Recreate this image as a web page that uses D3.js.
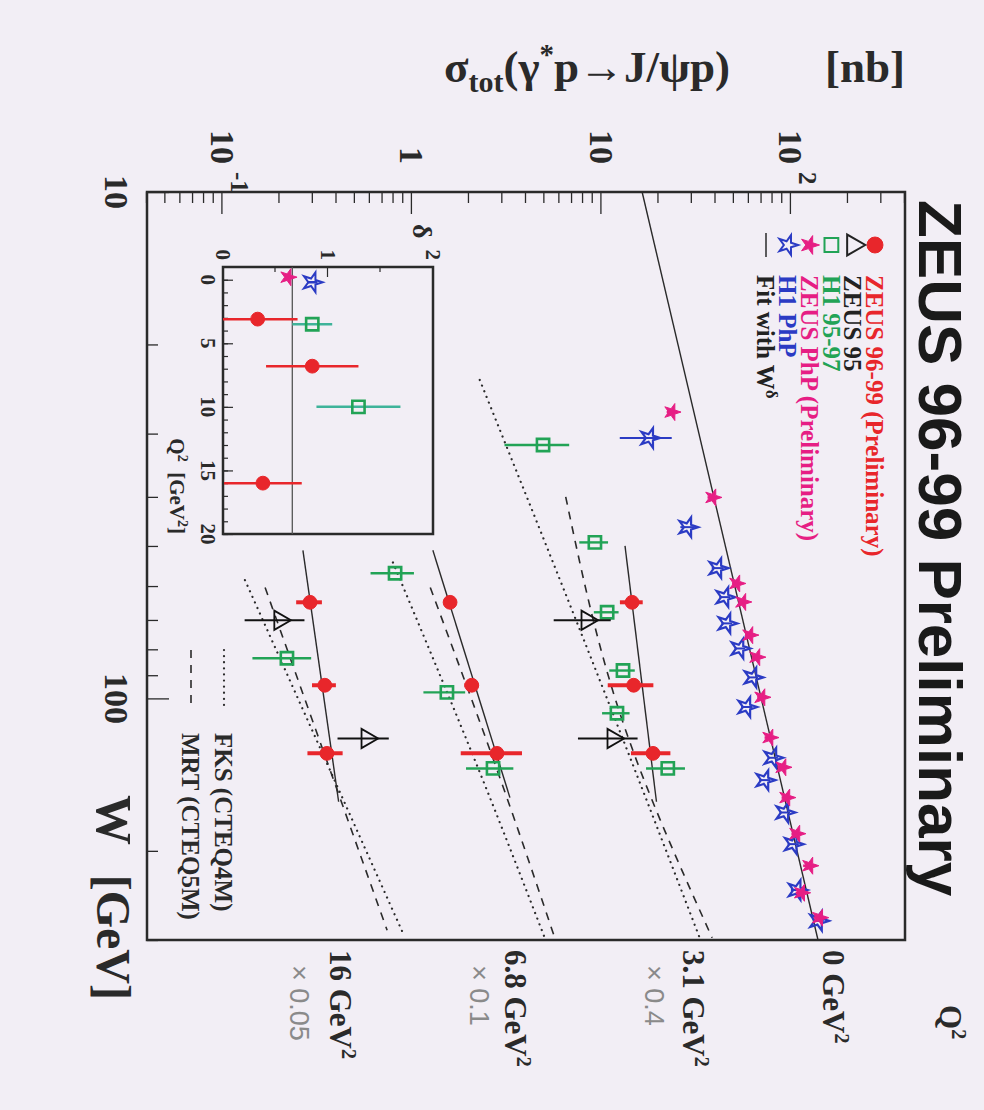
<!DOCTYPE html>
<html lang="en">
<head>
<meta charset="UTF-8">
<title>J/psi cross section vs W</title>
<style>
  body { margin: 0; background: #f2eef5; }
  text { font-family: "Liberation Serif", "Times New Roman", serif; font-weight: bold; }
</style>
</head>
<body>
<script src="https://cdn.jsdelivr.net/npm/d3@7/dist/d3.min.js"></script>
<div id="chart"></div>
<script>
// Q2 bins, the scale factor each bin is drawn with, and the labels
var q2Names = ["0 GeV", "3.1 GeV", "6.8 GeV", "16 GeV"]
var q2Factors = [1, 0.4, 0.1, 0.05]
var factorLabels = ["", "\u00d7 0.4", "\u00d7 0.1", "\u00d7 0.05"]

// ZEUS 96-99 (preliminary) - q is the Q2 bin index, sigma in nb (unscaled)
var zeusQ = [1, 1, 1, 2, 2, 2, 3, 3, 3]
var zeusW = [64.6, 94.2, 128.4, 64.6, 94.2, 128.4, 64.6, 94.2, 128.4]
var zeusSig = [36.3, 37, 46.8, 15.9, 20.7, 28.1, 5.8, 6.94, 7.12]
var zeusErr = [5, 10, 11, 1.2, 1.8, 10, 0.9, 1.0, 1.5]

// ZEUS 95
var z95Q = [1, 1, 3, 3]
var z95W = [70.1, 120, 70.1, 120]
var z95Sig = [21, 28.8, 4.02, 11.6]
var z95Err = [7, 10, 1.4, 3.5]

// H1 95-97
var h1Q = [1, 1, 1, 1, 1, 1, 2, 2, 2, 3]
var h1W = [31.6, 49.2, 67.6, 88.1, 107, 137.5, 56.6, 97.3, 137.5, 83.3]
var h1Sig = [12.3, 23.1, 26.8, 32.5, 30.2, 56, 8.15, 15.3, 26.8, 4.38]
var h1Err = [4.6, 4, 4, 5, 5, 13, 2.1, 3.8, 7.5, 1.5]

// photoproduction, Q2 = 0
var zphpW = [27.2, 40.1, 59.3, 64.5, 75.0, 82.9, 99.5, 119.5, 136.8, 157, 185, 214, 242, 271]
var zphpSig = [23.6, 38.8, 51.9, 55.8, 60.8, 66.2, 70.4, 77.6, 90.9, 95.3, 107.6, 126, 114, 142]
var zphpErr = [1.5, 2.5, 3, 3, 3.5, 4, 4, 5, 6, 6, 7, 10, 8, 10]
var h1phpW = [30.6, 45.9, 55.3, 63.1, 71.1, 79.7, 90.9, 104, 131, 145, 168, 194, 239, 275]
var h1phpSig = [18.0, 28.6, 41.2, 44.9, 46.0, 53.9, 63.1, 58.6, 80.4, 73, 93, 103, 108, 140]
var h1phpErr = [5.5, 2.5, 3, 3, 3, 3.5, 4, 4, 5, 5, 6, 7, 8, 9]

// fits with W^delta, end points per Q2 bin (unscaled)
var fitW0 = [10, 50, 51, 51]
var fitS0 = [16.4, 33.3, 12.9, 5.32]
var fitW1 = [300, 160, 157, 160]
var fitS1 = [139, 48.8, 32.9, 8.21]

// FKS (CTEQ4M) dotted and MRT (CTEQ5M) dashed, for Q2 bins 1..3
var fksW = [[23.5, 107, 298], [53.9, 157, 298], [58.4, 291]]
var fksSig = [[5.7, 28.7, 82.8], [7.94, 25.8, 50.4], [2.63, 17.96]]
var mrtW = [[40, 107, 297], [60.4, 157, 298], [60.4, 287]]
var mrtSig = [[16.2, 31.3, 96], [12.5, 31.7, 56.9], [3.36, 14.8]]

// inset: delta vs Q2
var dZeusQ = [3.1, 6.8, 16], dZeus = [0.33, 0.85, 0.38], dZeusErr = [0.38, 0.44, 0.37]
var dH1Q = [3.5, 10], dH1 = [0.85, 1.29], dH1Err = [0.19, 0.40]
var dZphpQ = [-0.2], dZphp = [0.62]
var dH1phpQ = [0.2], dH1php = [0.85], dH1phpErr = [0.05]
var dMean = 0.66

var legendNames = ["ZEUS 96-99 (Preliminary)", "ZEUS 95", "H1 95-97", "ZEUS PhP (Preliminary)", "H1 PhP", "Fit with W"]
var legendColors = ["#e8262b", "#222", "#22a356", "#e61e84", "#2b3bc4", "#222"]

var bg = "#f2eef5", red = "#e8262b", green = "#22a356", pink = "#e61e84", blue = "#2b3bc4", ink = "#2a2a2a"

var width = 984, height = 1110
var plotW = 748, plotH = 758   // unrotated: W runs along x, sigma up the y

var svg = d3.select("#chart").append("svg").attr("width", width).attr("height", height)
svg.append("rect").attr("width", width).attr("height", height).attr("fill", bg)

// the whole figure is turned a quarter turn clockwise
var g = svg.append("g").attr("transform", "translate(905,192) rotate(90)")

var xScale = d3.scaleLog().domain([10, 300]).range([0, plotW])
var yScale = d3.scaleLog().domain([0.04, 400]).range([plotH, 0])

function isMajor(v) { return Math.abs(Math.log10(v) - Math.round(Math.log10(v))) < 1e-6 }

// ticks, pointing into the frame
var xt = xScale.ticks()
g.append("g").attr("transform", "translate(0," + plotH + ")")
  .call(d3.axisBottom(xScale).tickValues(xt.filter(function(v){ return !isMajor(v) })).tickSize(-11).tickFormat(""))
g.append("g").attr("transform", "translate(0," + plotH + ")")
  .call(d3.axisBottom(xScale).tickValues(xt.filter(isMajor)).tickSize(-22).tickFormat(""))
var yt = yScale.ticks()
g.append("g")
  .call(d3.axisLeft(yScale).tickValues(yt.filter(function(v){ return !isMajor(v) })).tickSize(-11).tickFormat(""))
g.append("g")
  .call(d3.axisLeft(yScale).tickValues(yt.filter(isMajor)).tickSize(-22).tickFormat(""))
g.selectAll(".domain").remove()
g.selectAll(".tick line").attr("stroke", ink).attr("stroke-width", 1.3)

g.append("rect").attr("width", plotW).attr("height", plotH)
  .attr("fill", "none").attr("stroke", ink).attr("stroke-width", 2.5)

// W tick labels
g.selectAll(".wlab").data(xt.filter(isMajor)).enter().append("text")
  .attr("x", function(d){ return xScale(d) }).attr("y", plotH + 42)
  .attr("text-anchor", "middle").style("font-size", "34px").attr("fill", ink)
  .text(function(d){ return d })

// sigma tick labels
var yLabels = [[0.1, "10", "-1"], [1, "1", ""], [10, "10", ""], [100, "10", "2"]]
yLabels.forEach(function(l) {
  g.append("text").attr("x", -28).attr("y", yScale(l[0])).attr("dy", "0.35em")
    .attr("text-anchor", "end").style("font-size", "34px").attr("fill", ink).text(l[1])
  if (l[2]) g.append("text").attr("x", -20).attr("y", yScale(l[0]) - 17).attr("dy", "0.35em")
    .style("font-size", "25px").attr("fill", ink).text(l[2])
})

// axis titles
g.append("text").attr("x", 603).attr("y", plotH + 50).style("font-size", "50px").attr("fill", ink).text("W")
g.append("text").attr("x", 808).attr("y", plotH + 50).attr("text-anchor", "end").style("font-size", "48px").attr("fill", ink).text("[GeV]")

var ytitle = g.append("text").attr("transform", "translate(-110,175) rotate(-90)")
  .attr("text-anchor", "end").style("font-size", "45px").attr("fill", ink)
ytitle.append("tspan").text("\u03c3")
ytitle.append("tspan").attr("dy", 10).style("font-size", "30px").text("tot")
ytitle.append("tspan").attr("dy", -10).text("(\u03b3")
ytitle.append("tspan").attr("dy", -18).style("font-size", "29px").text("*")
ytitle.append("tspan").attr("dy", 18).text("p\u2192J/\u03c8p)")
g.append("text").attr("transform", "translate(-110,0) rotate(-90)")
  .attr("text-anchor", "end").style("font-size", "45px").attr("fill", ink).text("[nb]")

g.append("text").attr("x", 8).attr("y", -14)
  .style("font-family", "'Liberation Sans', Arial, sans-serif").style("font-size", "62px")
  .attr("fill", "#1a1a1a").text("ZEUS 96-99 Preliminary")

// Q2 labels beside the right edge
g.append("text").attr("x", 813).attr("y", -35).style("font-size", "31px").attr("fill", ink)
  .text("Q").append("tspan").attr("dy", -12).style("font-size", "20px").text("2")
var labY = [82, 222, 400, 575], facY = [0, 260, 435, 615]
q2Names.forEach(function(n, i) {
  var t = g.append("text").attr("x", 758).attr("y", labY[i]).style("font-size", "31px").attr("fill", ink).text(n)
  t.append("tspan").attr("dy", -12).style("font-size", "20px").text("2")
  if (factorLabels[i]) g.append("text").attr("x", 773).attr("y", facY[i])
    .style("font-family", "'Liberation Sans', Arial, sans-serif").style("font-weight", "normal")
    .style("font-size", "27px").attr("fill", "#8a8a8a").text(factorLabels[i])
})

// curves
var line = d3.line().x(function(d){ return xScale(d[0]) }).y(function(d){ return yScale(d[1]) })
fitW0.forEach(function(w, i) {
  g.append("path").attr("d", line([[w, fitS0[i] * q2Factors[i]], [fitW1[i], fitS1[i] * q2Factors[i]]]))
    .attr("fill", "none").attr("stroke", ink).attr("stroke-width", 1.4)
})
var smooth = d3.line().curve(d3.curveMonotoneX).x(function(d){ return xScale(d[0]) }).y(function(d){ return yScale(d[1]) })
fksW.forEach(function(ws, k) {
  var f = q2Factors[k + 1]
  g.append("path").attr("d", smooth(ws.map(function(w, j){ return [w, fksSig[k][j] * f] })))
    .attr("fill", "none").attr("stroke", ink).attr("stroke-width", 2.2)
    .attr("stroke-dasharray", "0.1,6").attr("stroke-linecap", "round")
})
mrtW.forEach(function(ws, k) {
  var f = q2Factors[k + 1]
  g.append("path").attr("d", smooth(ws.map(function(w, j){ return [w, mrtSig[k][j] * f] })))
    .attr("fill", "none").attr("stroke", ink).attr("stroke-width", 1.6)
    .attr("stroke-dasharray", "8,7")
})

// markers with error bars along sigma
function drawSet(ws, sig, err, factor, color, sym, size, fill, sw, barW) {
  var pts = ws.map(function(w, i){ return { w: w, s: sig[i] * factor(i), e: err ? err[i] * factor(i) : 0 } })
  var grp = g.append("g")
  grp.selectAll("line").data(pts).enter().append("line")
    .attr("x1", function(d){ return xScale(d.w) }).attr("x2", function(d){ return xScale(d.w) })
    .attr("y1", function(d){ return yScale(d.s + d.e) }).attr("y2", function(d){ return yScale(Math.max(d.s - d.e, 0.041)) })
    .attr("stroke", color).attr("stroke-width", barW)
  grp.selectAll("path").data(pts).enter().append("path")
    .attr("transform", function(d){ return "translate(" + xScale(d.w) + "," + yScale(d.s) + ")" })
    .attr("d", d3.symbol().type(sym).size(size))
    .attr("fill", fill).attr("stroke", color).attr("stroke-width", sw)
}
function byBin(q) { return function(i){ return q2Factors[q[i]] } }
function one() { return 1 }

drawSet(h1W, h1Sig, h1Err, byBin(h1Q), green, d3.symbolSquare, 150, "none", 2.6, 2.4)
drawSet(z95W, z95Sig, z95Err, byBin(z95Q), "#111", d3.symbolTriangle, 160, "none", 1.8, 2)
drawSet(zeusW, zeusSig, zeusErr, byBin(zeusQ), red, d3.symbolCircle, 150, red, 1, 4)
drawSet(h1phpW, h1phpSig, h1phpErr, one, blue, d3.symbolStar, 120, "none", 2.2, 2)
drawSet(zphpW, zphpSig, zphpErr, one, pink, d3.symbolStar, 90, pink, 1, 2.5)

// legend (top left of the frame)
var legX = 53, legT = 83, legY0 = 30, legDy = 21.8
var legSyms = [d3.symbolCircle, d3.symbolTriangle, d3.symbolSquare, d3.symbolStar, d3.symbolStar]
var legFill = [red, "none", "none", pink, "none"]
var legSize = [200, 190, 190, 110, 120]
legendNames.forEach(function(n, i) {
  var y = legY0 + i * legDy
  if (i < 5) g.append("path").attr("transform", "translate(" + legX + "," + y + ")")
    .attr("d", d3.symbol().type(legSyms[i]).size(legSize[i]))
    .attr("fill", legFill[i]).attr("stroke", legendColors[i]).attr("stroke-width", i == 0 || i == 3 ? 1 : 2)
  else g.append("line").attr("x1", legX - 12).attr("x2", legX + 12).attr("y1", y).attr("y2", y)
    .attr("stroke", ink).attr("stroke-width", 1.5)
  var t = g.append("text").attr("x", legT).attr("y", y).attr("dy", "0.35em")
    .style("font-size", "25px").attr("fill", legendColors[i]).text(n)
  if (i == 5) t.append("tspan").attr("dy", -9).style("font-size", "17px").text("\u03b4")
})

// theory legend (bottom right)
var thY = [681, 714], thNames = ["FKS (CTEQ4M)", "MRT (CTEQ5M)"]
thNames.forEach(function(n, i) {
  var l = g.append("line").attr("x1", 458).attr("x2", 515).attr("y1", thY[i]).attr("y2", thY[i])
    .attr("stroke", ink).attr("stroke-width", i == 0 ? 2.2 : 1.6)
  if (i == 0) l.attr("stroke-dasharray", "0.1,6").attr("stroke-linecap", "round")
  else l.attr("stroke-dasharray", "8,7")
  g.append("text").attr("x", 541).attr("y", thY[i]).attr("dy", "0.35em")
    .style("font-size", "25px").attr("fill", ink).text(n)
})

// inset: delta vs Q2
var ix = d3.scaleLinear().domain([-1, 20]).range([75, 342])
var iy = d3.scaleLinear().domain([0, 2]).range([682, 472])
var inset = g.append("g")
inset.append("g").attr("transform", "translate(0,682)")
  .call(d3.axisBottom(ix).tickValues(d3.range(0, 21)).tickSize(-5).tickFormat(""))
inset.append("g").attr("transform", "translate(0,682)")
  .call(d3.axisBottom(ix).tickValues([0, 5, 10, 15, 20]).tickSize(-10).tickFormat(""))
inset.append("g").attr("transform", "translate(75,0)")
  .call(d3.axisLeft(iy).tickValues([0.5, 1.5]).tickSize(-5).tickFormat(""))
inset.append("g").attr("transform", "translate(75,0)")
  .call(d3.axisLeft(iy).tickValues([1]).tickSize(-10).tickFormat(""))
inset.selectAll(".domain").remove()
inset.selectAll(".tick line").attr("stroke", ink).attr("stroke-width", 1.2)
inset.append("rect").attr("x", 75).attr("y", 472).attr("width", 267).attr("height", 210)
  .attr("fill", "none").attr("stroke", ink).attr("stroke-width", 2.5)
inset.append("line").attr("x1", 75).attr("x2", 342).attr("y1", iy(dMean)).attr("y2", iy(dMean))
  .attr("stroke", "#555").attr("stroke-width", 1.3)
inset.selectAll(".qlab").data([0, 5, 10, 15, 20]).enter().append("text")
  .attr("x", function(d){ return ix(d) }).attr("y", 704).attr("text-anchor", "middle")
  .style("font-size", "21px").attr("fill", ink).text(function(d){ return d })
inset.selectAll(".dlab").data([0, 1, 2]).enter().append("text")
  .attr("x", 68).attr("y", function(d){ return iy(d) }).attr("dy", "0.35em").attr("text-anchor", "end")
  .style("font-size", "21px").attr("fill", ink).text(function(d){ return d })
inset.append("text").attr("x", 32).attr("y", 492).style("font-size", "28px").attr("fill", ink).text("\u03b4")
var qt = inset.append("text").attr("x", 342).attr("y", 735).attr("text-anchor", "end").style("font-size", "21px").attr("fill", ink)
qt.append("tspan").text("Q")
qt.append("tspan").attr("dy", -8).style("font-size", "14px").text("2")
qt.append("tspan").attr("dy", 8).text("\u00a0\u00a0[GeV")
qt.append("tspan").attr("dy", -8).style("font-size", "14px").text("2")
qt.append("tspan").attr("dy", 8).text("]")

function insetSet(qs, ds, es, color, sym, size, fill, sw, barColor) {
  var grp = inset.append("g")
  if (es) grp.selectAll("line").data(qs).enter().append("line")
    .attr("x1", function(d){ return ix(d) }).attr("x2", function(d){ return ix(d) })
    .attr("y1", function(d, i){ return iy(Math.min(ds[i] + es[i], 2)) })
    .attr("y2", function(d, i){ return iy(Math.max(ds[i] - es[i], 0)) })
    .attr("stroke", barColor).attr("stroke-width", 2.5)
  grp.selectAll("path").data(qs).enter().append("path")
    .attr("transform", function(d, i){ return "translate(" + ix(d) + "," + iy(ds[i]) + ")" })
    .attr("d", d3.symbol().type(sym).size(size))
    .attr("fill", fill).attr("stroke", color).attr("stroke-width", sw)
}
insetSet(dH1Q, dH1, dH1Err, green, d3.symbolSquare, 150, "none", 2.6, "#3fb39a")
insetSet(dZeusQ, dZeus, dZeusErr, red, d3.symbolCircle, 150, red, 1, red)
insetSet(dH1phpQ, dH1php, dH1phpErr, blue, d3.symbolStar, 120, "none", 2, blue)
insetSet(dZphpQ, dZphp, null, pink, d3.symbolStar, 90, pink, 1, pink)
</script>
</body>
</html>
